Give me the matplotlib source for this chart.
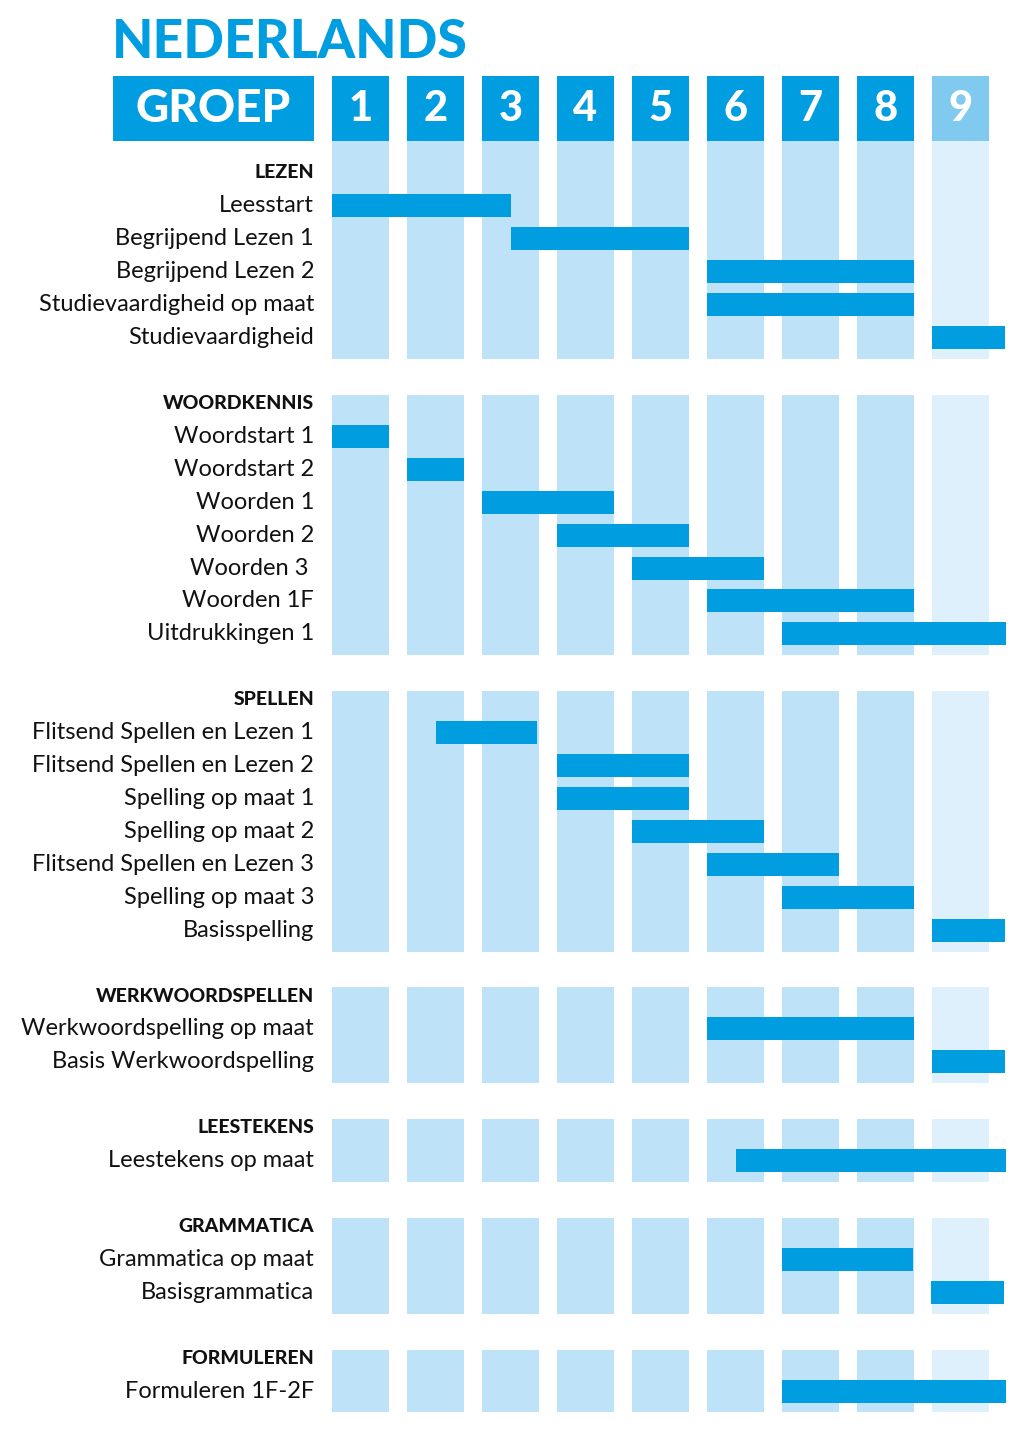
import matplotlib
matplotlib.use('Agg')
from matplotlib import pyplot as plt
from matplotlib.patches import Rectangle

#####################################
# Data
groepen = [1, 2, 3, 4, 5, 6, 7, 8, 9]

secties = ['LEZEN', 'WOORDKENNIS', 'SPELLEN', 'WERKWOORDSPELLEN',
           'LEESTEKENS', 'GRAMMATICA', 'FORMULEREN']

methodes = [
    ['Leesstart', 'Begrijpend Lezen 1', 'Begrijpend Lezen 2',
     'Studievaardigheid op maat', 'Studievaardigheid'],
    ['Woordstart 1', 'Woordstart 2', 'Woorden 1', 'Woorden 2', 'Woorden 3 ',
     'Woorden 1F', 'Uitdrukkingen 1'],
    ['Flitsend Spellen en Lezen 1', 'Flitsend Spellen en Lezen 2',
     'Spelling op maat 1', 'Spelling op maat 2', 'Flitsend Spellen en Lezen 3',
     'Spelling op maat 3', 'Basisspelling'],
    ['Werkwoordspelling op maat', 'Basis Werkwoordspelling'],
    ['Leestekens op maat'],
    ['Grammatica op maat', 'Basisgrammatica'],
    ['Formuleren 1F-2F'],
]

# start / end in groep units (groep k spans k-0.38 .. k+0.38)
start = [
    [0.62, 3.0, 5.62, 5.62, 8.62],
    [0.62, 1.62, 2.62, 3.62, 4.62, 5.62, 6.62],
    [2.0, 3.62, 3.62, 4.62, 5.62, 6.62, 8.62],
    [5.62, 8.62],
    [6.0],
    [6.62, 8.6],
    [6.62],
]
end = [
    [3.0, 5.38, 8.38, 8.38, 9.6],
    [1.38, 2.38, 4.38, 5.38, 6.38, 8.38, 9.6],
    [3.35, 5.38, 5.38, 6.38, 7.38, 8.38, 9.6],
    [8.38, 9.6],
    [9.6],
    [8.36, 9.58],
    [9.6],
]
#####################################

blue = '#009de0'
col_bg = '#bee3f8'
col9_bg = '#ddf0fb'
head9 = '#7fcaee'

plt.rcParams['font.family'] = ['Lato', 'DejaVu Sans']

fig = plt.figure(figsize=(10.24, 14.36), dpi=100)
ax = fig.add_axes([0, 0, 1, 1])
pitch = 32.92
ax.set_xlim(1 - 360.5 / 75, 1 + (1024 - 360.5) / 75)
ax.set_ylim((1436 - 173) / pitch, -173 / pitch)
ax.axis('off')

w = 0.38
bh = 0.35

# header
ax.text(1 - (360.5 - 112) / 75, -3.95, 'NEDERLANDS', color=blue, fontsize=38.5,
        fontweight='black', ha='left', va='center')
ax.add_patch(Rectangle((1 - (360.5 - 113) / 75, -2.94), 201 / 75, 1.97,
                       color=blue, lw=0))
ax.text(1 - (360.5 - 213.5) / 75, -1.95, 'GROEP', color='white', fontsize=33,
        fontweight='black', ha='center', va='center')
for g in groepen:
    c = head9 if g == 9 else blue
    ax.add_patch(Rectangle((g - w, -2.94), 2 * w, 1.97, color=c, lw=0))
    ax.text(g, -1.95, str(g), color='white', fontsize=30, fontweight='black',
            ha='center', va='center')

label_x = 1 - (360.5 - 314) / 75
y = 0
for i, sectie in enumerate(secties):
    n = len(methodes[i])
    top = -0.97 if i == 0 else y - 0.26
    bottom = y + n + 0.65
    for g in groepen:
        c = col9_bg if g == 9 else col_bg
        ax.add_patch(Rectangle((g - w, top), 2 * w, bottom - top, color=c, lw=0))
    ax.text(label_x, y, sectie, fontsize=14, fontweight='black', color='#111111',
            ha='right', va='center')
    for j, naam in enumerate(methodes[i]):
        r = y + 1 + j
        ax.text(label_x, r, naam, fontsize=17, color='#111111',
                ha='right', va='center')
        ax.add_patch(Rectangle((start[i][j], r - bh), end[i][j] - start[i][j],
                               2 * bh, color=blue, lw=0))
    y += n + 2

fig.savefig('out.png', dpi=100)
